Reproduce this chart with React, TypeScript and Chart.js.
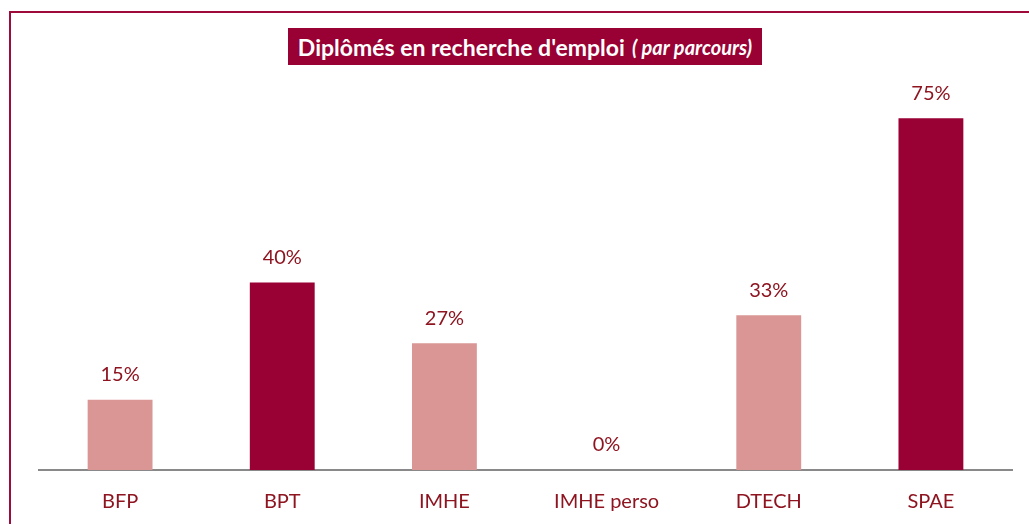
import React, { useEffect, useRef } from "react";
import { Chart, registerables } from "chart.js";

Chart.register(...registerables);

const categories = ["BFP", "BPT", "IMHE", "IMHE perso", "DTECH", "SPAE"];
const values = [15, 40, 27, 0, 33, 75];
const barColors = ["#D99694", "#990033", "#D99694", "#D99694", "#D99694", "#990033"];
const titleMain = "Diplômés en recherche d'emploi";
const titleSub = "( par parcours)";

const FONT = "Lato, 'Open Sans', sans-serif";
const TEXT_COLOR = "#8E1420";

export default function App() {
  const ref = useRef<HTMLCanvasElement | null>(null);

  useEffect(() => {
    if (!ref.current) return;
    const labelPlugin = {
      id: "valueLabels",
      afterDatasetsDraw(chart: any) {
        const ctx = chart.ctx;
        const meta = chart.getDatasetMeta(0);
        ctx.save();
        ctx.font = `20px ${FONT}`;
        ctx.fillStyle = TEXT_COLOR;
        ctx.textAlign = "center";
        ctx.textBaseline = "middle";
        meta.data.forEach((bar: any, i: number) => {
          ctx.fillText(`${values[i]}%`, bar.x, bar.y - 25);
        });
        ctx.restore();
      },
    };
    const chart = new Chart(ref.current, {
      type: "bar",
      data: {
        labels: categories,
        datasets: [
          {
            data: values,
            backgroundColor: barColors,
            borderWidth: 0,
            categoryPercentage: 1,
            barPercentage: 0.4,
          },
        ],
      },
      options: {
        animation: false,
        responsive: true,
        maintainAspectRatio: false,
        layout: { padding: { left: 39, right: 17, top: 1, bottom: 12 } },
        plugins: { legend: { display: false }, tooltip: { enabled: false }, title: { display: false } },
        scales: {
          x: {
            grid: { display: false, drawTicks: false },
            border: { display: true, color: "#898989", width: 2 },
            ticks: { color: TEXT_COLOR, font: { family: FONT, size: 20 }, padding: 20 },
          },
          y: {
            display: false,
            min: 0,
            max: 100,
          },
        },
      },
      plugins: [labelPlugin],
    });
    return () => chart.destroy();
  }, []);

  return (
    <div
      style={{
        position: "fixed",
        left: 0,
        top: 0,
        width: 1029,
        height: 524,
        overflow: "hidden",
        background: "#ffffff",
      }}
    >
      <div
        style={{
          position: "absolute",
          left: 9,
          top: 11,
          width: 1100,
          height: 700,
          border: "2px solid #9E0B3A",
          boxSizing: "border-box",
        }}
      />
      <div style={{ position: "absolute", left: 0, top: 0, width: 1029, height: 546 }}>
        <canvas ref={ref} />
      </div>
      <div
        style={{
          position: "absolute",
          left: 288,
          top: 28,
          width: 474,
          height: 37,
          background: "#990033",
          color: "#ffffff",
          display: "flex",
          alignItems: "center",
          justifyContent: "center",
          fontFamily: FONT,
          fontWeight: 700,
          fontSize: 23,
          whiteSpace: "nowrap",
        }}
      >
        <span>{titleMain}</span>
        <span style={{ fontStyle: "italic", fontSize: 20, marginLeft: 7 }}>{titleSub}</span>
      </div>
    </div>
  );
}
